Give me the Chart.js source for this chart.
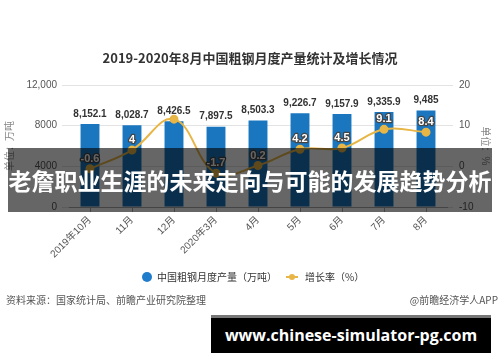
<!DOCTYPE html>
<html><head><meta charset="utf-8">
<script src="https://cdn.jsdelivr.net/npm/chart.js@4.4.0/dist/chart.umd.min.js"></script>
<style>
html,body{margin:0;padding:0;background:#fff;width:500px;height:362px;overflow:hidden;font-family:'Liberation Sans','Noto Sans CJK SC',sans-serif;}
#wrap{position:relative;width:500px;height:362px;}
#c{position:absolute;left:0;top:0;width:500px;height:362px;}
#title{position:absolute;left:0;width:500px;top:49px;text-align:center;font:bold 13px 'Noto Sans CJK SC',sans-serif;color:#333;line-height:18px;}
#legend{position:absolute;top:269px;left:0;width:500px;height:16px;font:10px 'Noto Sans CJK SC',sans-serif;color:#333;line-height:16px;}
#legend .dot{position:absolute;left:142px;top:3px;width:10px;height:10px;border-radius:50%;background:#1f7dcb;}
#legend .t1{position:absolute;left:157px;top:0;}
#legend .ln{position:absolute;left:286px;top:7px;width:12px;height:2px;background:#e8b646;}
#legend .ld{position:absolute;left:289px;top:5px;width:6px;height:6px;border-radius:50%;background:#e8b646;}
#legend .t2{position:absolute;left:305px;top:0;}
#src{position:absolute;left:6px;top:292px;font:10px 'Noto Sans CJK SC',sans-serif;color:#555;line-height:16px;}
#app{position:absolute;right:2px;top:292px;font:10px 'Noto Sans CJK SC',sans-serif;color:#555;line-height:16px;}
#band{position:absolute;left:8px;top:148px;width:484px;height:64px;background:rgba(0,0,0,0.6);color:#fff;font:bold 23px 'Noto Sans CJK SC',sans-serif;text-align:center;line-height:64px;white-space:nowrap;}
#url{position:absolute;left:211px;top:315px;width:280px;height:35px;background:#000;border-top:3px solid #777;color:#fff;font:bold 16px 'Open Sans',sans-serif;text-align:center;line-height:35px;}
</style></head><body>
<div id="wrap">
<canvas id="c" width="500" height="362"></canvas>
<div id="title">2019-2020年8月中国粗钢月度产量统计及增长情况</div>
<div id="legend"><span class="dot"></span><span class="t1">中国粗钢月度产量（万吨）</span><span class="ln"></span><span class="ld"></span><span class="t2">增长率（%）</span></div>
<div id="src">资料来源：国家统计局、前瞻产业研究院整理</div>
<div id="app">@前瞻经济学人APP</div>
<div id="band">老詹职业生涯的未来走向与可能的发展趋势分析</div>
<div id="url">www.chinese-simulator-pg.com</div>
</div>
<script>
const categories = ['2019年10月','11月','12月','2020年3月','4月','5月','6月','7月','8月'];
const production = [8152.1, 8028.7, 8426.5, 7897.5, 8503.3, 9226.7, 9157.9, 9335.9, 9485];
const growth = [-0.6, 4, 11.6, -1.7, 0.2, 4.2, 4.5, 9.1, 8.4];
const leftTickLabels = ['0','4000','8000','12,000'];
const rightTickLabels = ['-10','0','10','20'];

const FONT = "'Liberation Sans','Noto Sans CJK SC',sans-serif";

const labelPlugin = {
  id: 'valueLabels',
  afterDatasetsDraw(chart) {
    const ctx = chart.ctx;
    ctx.save();
    const barMeta = chart.getDatasetMeta(0);
    ctx.font = 'bold 10px ' + FONT;
    ctx.fillStyle = '#333';
    ctx.textAlign = 'center';
    ctx.textBaseline = 'middle';
    const boxes = [];
    barMeta.data.forEach((el, i) => {
      const txt = production[i].toLocaleString('en-US', {maximumFractionDigits: 1});
      const w = ctx.measureText(txt).width;
      const y = el.y - 10;
      boxes.push({l: el.x - w / 2, r: el.x + w / 2, t: y - 6, b: y + 6});
      ctx.fillText(txt, el.x, y);
    });
    const lineMeta = chart.getDatasetMeta(1);
    ctx.font = 'bold 11px ' + FONT;
    ctx.lineJoin = 'round';
    lineMeta.data.forEach((el, i) => {
      const txt = String(growth[i]);
      const w = ctx.measureText(txt).width;
      const y = el.y - 10;
      const box = {l: el.x - w / 2, r: el.x + w / 2, t: y - 6, b: y + 6};
      const hit = boxes.some(b => box.l < b.r && box.r > b.l && box.t < b.b && box.b > b.t);
      if (hit) return;
      ctx.strokeStyle = '#444';
      ctx.lineWidth = 2.5;
      ctx.strokeText(txt, el.x, y);
      ctx.fillStyle = '#fff';
      ctx.fillText(txt, el.x, y);
    });
    ctx.restore();
  }
};

new Chart(document.getElementById('c'), {
  data: {
    labels: categories,
    datasets: [
      {
        type: 'bar', label: '中国粗钢月度产量（万吨）', data: production,
        backgroundColor: '#1a76be', yAxisID: 'y', order: 1,
        barPercentage: 0.9, categoryPercentage: 0.5
      },
      {
        type: 'line', label: '增长率（%）', data: growth,
        borderColor: '#e8b646', backgroundColor: '#e8b646', borderWidth: 2,
        pointRadius: 3.5, pointBackgroundColor: '#e8b646', pointBorderColor: '#e8b646',
        tension: 0.4, yAxisID: 'y1', order: 0
      }
    ]
  },
  options: {
    responsive: false, animation: false, devicePixelRatio: 1,
    layout: {padding: {top: 85, left: 0, right: 0, bottom: 0}},
    plugins: {legend: {display: false}, tooltip: {enabled: false}, title: {display: false}},
    scales: {
      x: {
        type: 'category', offset: true,
        grid: {display: true, drawOnChartArea: false, offset: false, tickLength: 5, color: '#aaa'},
        border: {color: '#aaa'},
        ticks: {minRotation: 45, maxRotation: 45, autoSkip: false, padding: 2, color: '#555', font: {size: 10, family: FONT}},
        afterFit: s => { s.height = 155; }
      },
      y: {
        position: 'left', min: 0, max: 12000,
        ticks: {stepSize: 4000, padding: 5, color: '#555', font: {size: 10, family: FONT},
          callback: (v, i) => leftTickLabels[i]},
        grid: {color: '#e3e3e3', tickLength: 7},
        border: {display: false},
        title: {display: true, text: '单位：万吨', color: '#888', font: {size: 10, family: FONT}, padding: {top: 4, bottom: 0}},
        afterFit: s => { s.width = 69; }
      },
      y1: {
        position: 'right', min: -10, max: 20,
        ticks: {stepSize: 10, padding: 6, color: '#555', font: {size: 10, family: FONT},
          callback: (v, i) => rightTickLabels[i]},
        grid: {drawOnChartArea: false, color: '#e3e3e3', tickLength: 6},
        border: {display: false},
        title: {display: true, text: '单位：%', color: '#888', font: {size: 10, family: FONT}, padding: {top: 9, bottom: 0}},
        afterFit: s => { s.width = 53; }
      }
    }
  },
  plugins: [labelPlugin]
});
</script>
</body></html>
